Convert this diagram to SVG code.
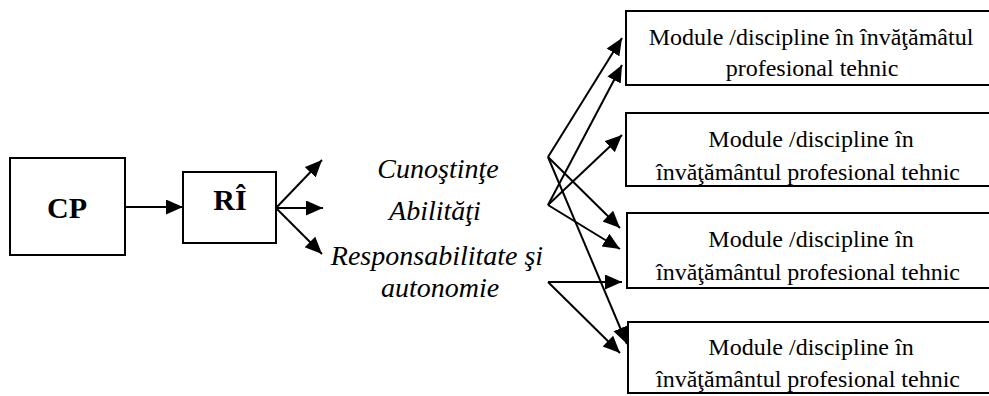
<svg xmlns="http://www.w3.org/2000/svg" width="989" height="396" viewBox="0 0 989 396">
<defs>
<marker id="ah" markerUnits="userSpaceOnUse" markerWidth="18" markerHeight="16" refX="17" refY="7.5" orient="auto">
<path d="M0,0 L17,7.5 L0,15 z" fill="#000"/>
</marker>
</defs>
<style>
.box{fill:#fff;stroke:#000;stroke-width:2}
.c{stroke:#000;stroke-width:2;fill:none;marker-end:url(#ah)}
</style>
<rect width="989" height="396" fill="#fff"/>
<g id="cp"><rect class="box" x="10" y="158" width="115" height="97"/><text x="67" y="218" font-family="Liberation Serif" font-size="30" font-weight="bold" text-anchor="middle">CP</text></g>
<g id="ri"><rect class="box" x="183" y="172" width="93" height="71"/><text x="230" y="210" font-family="Liberation Serif" font-size="30" font-weight="bold" text-anchor="middle">RÎ</text></g>
<g id="ki">
<text x="438" y="178" font-family="Liberation Serif" font-size="28" font-style="italic" text-anchor="middle">Cunoştinţe</text>
<text x="435" y="220" font-family="Liberation Serif" font-size="28" font-style="italic" text-anchor="middle">Abilităţi</text>
<text x="437" y="265" font-family="Liberation Serif" font-size="28" font-style="italic" text-anchor="middle">Responsabilitate şi</text>
<text x="440" y="297" font-family="Liberation Serif" font-size="28" font-style="italic" text-anchor="middle">autonomie</text>
</g>
<g id="m1"><rect class="box" x="626" y="11" width="370" height="74"/>
<text x="811" y="45" font-family="Liberation Serif" font-size="24" text-anchor="middle">Module /discipline în învăţămâtul</text>
<text x="812" y="76" font-family="Liberation Serif" font-size="24" text-anchor="middle">profesional tehnic</text></g>
<g id="m2"><rect class="box" x="626" y="113" width="370" height="73"/>
<text x="811" y="147" font-family="Liberation Serif" font-size="24" text-anchor="middle">Module /discipline în</text>
<text x="808" y="180" font-family="Liberation Serif" font-size="24" text-anchor="middle">învăţământul profesional tehnic</text></g>
<g id="m3"><rect class="box" x="627" y="213" width="370" height="75"/>
<text x="811" y="247" font-family="Liberation Serif" font-size="24" text-anchor="middle">Module /discipline în</text>
<text x="808" y="280" font-family="Liberation Serif" font-size="24" text-anchor="middle">învăţământul profesional tehnic</text></g>
<g id="m4"><rect class="box" x="628" y="322" width="370" height="71"/>
<text x="811" y="355" font-family="Liberation Serif" font-size="24" text-anchor="middle">Module /discipline în</text>
<text x="808" y="387" font-family="Liberation Serif" font-size="24" text-anchor="middle">învăţământul profesional tehnic</text></g>
<g id="connectors">
<line class="c" x1="125" y1="207" x2="183" y2="207"/>
<line class="c" x1="276" y1="208" x2="322" y2="160"/>
<line class="c" x1="276" y1="208" x2="323" y2="208"/>
<line class="c" x1="276" y1="208" x2="322" y2="254"/>
<line class="c" x1="548" y1="157" x2="622" y2="38"/>
<line class="c" x1="548" y1="205" x2="622" y2="65"/>
<line class="c" x1="548" y1="205" x2="622" y2="135"/>
<line class="c" x1="548" y1="157" x2="620" y2="228"/>
<line class="c" x1="548" y1="205" x2="620" y2="249"/>
<line class="c" x1="548" y1="282" x2="622" y2="282"/>
<line class="c" x1="548" y1="157" x2="627" y2="344"/>
<line class="c" x1="548" y1="282" x2="620" y2="353"/>
</g>
</svg>
